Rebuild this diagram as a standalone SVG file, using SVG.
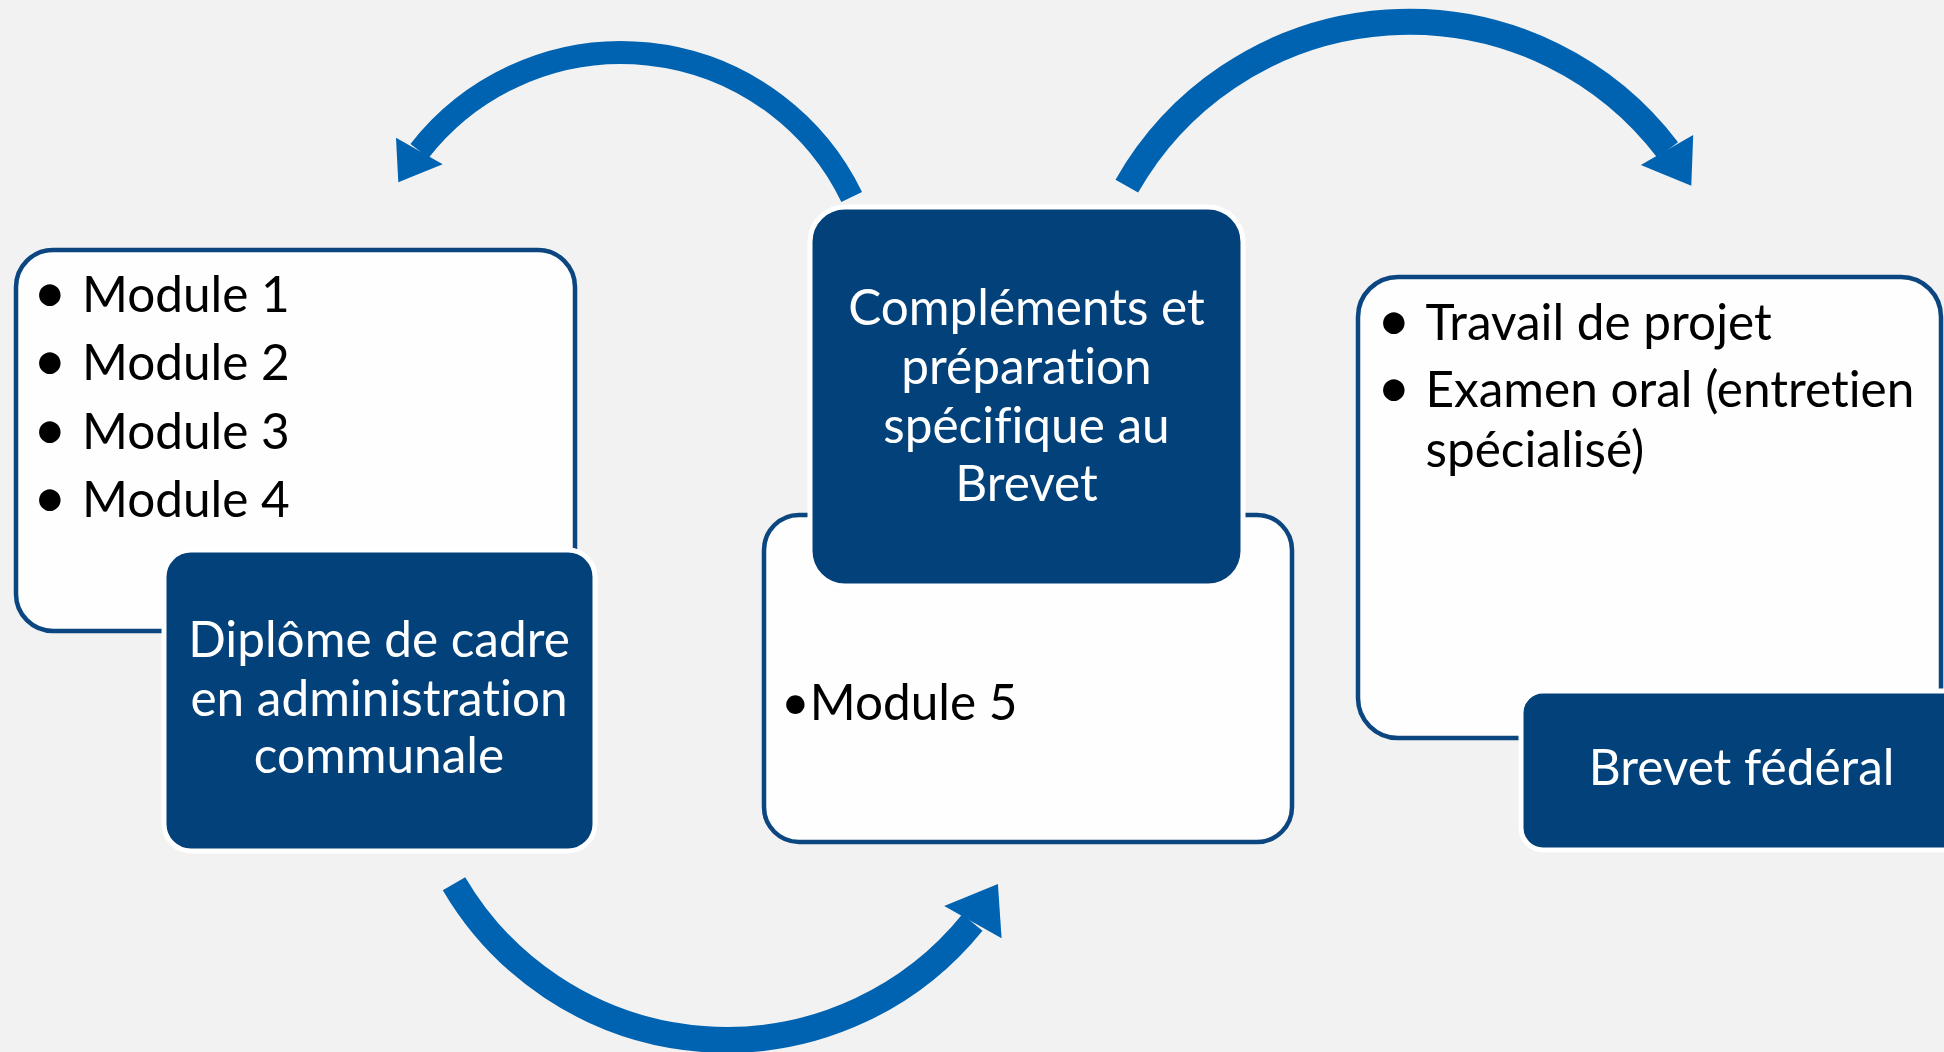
<svg xmlns="http://www.w3.org/2000/svg" width="1944" height="1052" viewBox="0 0 1944 1052">
<style>
.bg{fill:#f2f2f2}
.wbox{fill:#fefefe;stroke:#0b4680;stroke-width:4.5}
.dbox{fill:#02417a;stroke:#ffffff;stroke-width:5}
.arc{fill:none;stroke:#0063b1;stroke-linecap:butt}
.head{fill:#0063b1}
text{font-family:Lato,"Open Sans","Liberation Sans",sans-serif;font-size:49.5px;font-variant-ligatures:none}
.wt{fill:#ffffff;text-anchor:middle}
.bt{fill:#000000}
.dot{fill:#000000;font-size:58px}
</style>
<rect class="bg" x="0" y="0" width="1944" height="1052"/>
<g id="connectors">
<path class="arc" stroke-width="23" d="M851.7 197 A256 256 0 0 0 419.5 151"/>
<polygon class="head" points="396,137.7 442.7,164.3 398.3,182.3"/>
<path class="arc" stroke-width="26" d="M1126.8 186.2 A324.6 324.6 0 0 1 1667.7 150"/>
<polygon class="head" points="1693.2,135 1640.8,165 1691.3,185.7"/>
<path class="arc" stroke-width="26" d="M454 883.7 A316 316 0 0 0 972.4 922.5"/>
<polygon class="head" points="944.2,906 1001.6,938.3 997.9,884"/>
</g>
<g id="node-modules-1-4">
<rect class="wbox" x="16" y="250" width="559" height="381" rx="37"/>
<text class="dot" x="33" y="313">•</text>
<text class="bt" x="82" y="311.6">Module 1</text>
<text class="dot" x="33" y="381">•</text>
<text class="bt" x="82" y="380">Module 2</text>
<text class="dot" x="33" y="450">•</text>
<text class="bt" x="82" y="449">Module 3</text>
<text class="dot" x="33" y="518">•</text>
<text class="bt" x="82" y="517">Module 4</text>
</g>
<g id="node-diplome">
<rect class="dbox" x="164" y="550" width="431" height="301" rx="27"/>
<text class="wt" x="379" y="656.5">Diplôme de cadre</text>
<text class="wt" x="379" y="715.7">en administration</text>
<text class="wt" x="379" y="773">communale</text>
</g>
<g id="node-module-5">
<rect class="wbox" x="764" y="515" width="528" height="327" rx="35"/>
<text class="bt" x="781" y="720">•Module 5</text>
</g>
<g id="node-complements">
<rect class="dbox" x="810" y="207" width="433" height="379" rx="35"/>
<text class="wt" x="1026.5" y="324.7">Compléments et</text>
<text class="wt" x="1026.5" y="383.6">préparation</text>
<text class="wt" x="1026.5" y="442.5">spécifique au</text>
<text class="wt" x="1026.5" y="500.6">Brevet</text>
</g>
<g id="node-examens">
<rect class="wbox" x="1358" y="277" width="583" height="461" rx="40"/>
<text class="dot" x="1377" y="341.4">•</text>
<text class="bt" x="1425.5" y="340.4">Travail de projet</text>
<text class="dot" x="1377" y="408.3">•</text>
<text class="bt" x="1425.5" y="407.3">Examen oral (entretien</text>
<text class="bt" x="1425.5" y="466.7">spécialisé)</text>
</g>
<g id="node-brevet-federal">
<rect class="dbox" x="1521" y="691" width="470" height="159" rx="22"/>
<text class="wt" x="1741.6" y="785">Brevet fédéral</text>
</g>
</svg>
